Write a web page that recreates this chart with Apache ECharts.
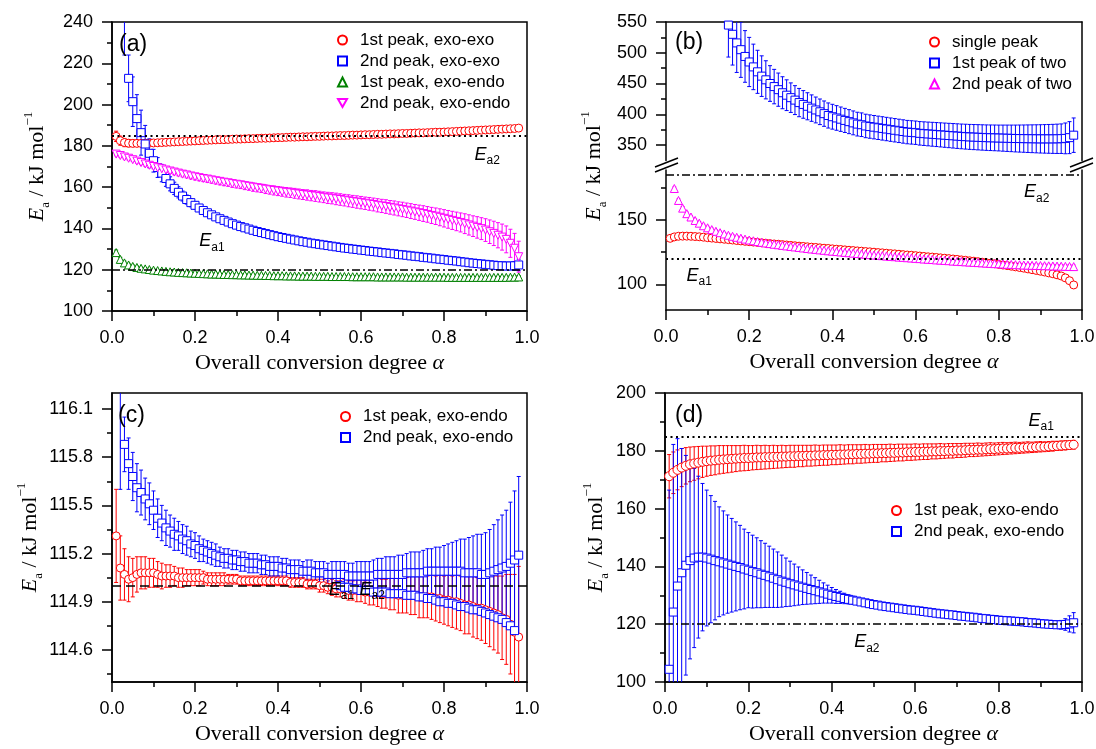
<!DOCTYPE html>
<html><head><meta charset="utf-8">
<script src="https://cdn.jsdelivr.net/npm/echarts@6/dist/echarts.min.js"></script>
<style>html,body{margin:0;padding:0;background:#fff}#c{width:1096px;height:749px}</style>
</head><body><div id="c"></div><script>
// ---------- DATA ----------
const alpha = [
0.01,0.02,0.03,0.04,0.05,0.06,0.07,0.08,0.09,0.10,
0.11,0.12,0.13,0.14,0.15,0.16,0.17,0.18,0.19,0.20,
0.21,0.22,0.23,0.24,0.25,0.26,0.27,0.28,0.29,0.30,
0.31,0.32,0.33,0.34,0.35,0.36,0.37,0.38,0.39,0.40,
0.41,0.42,0.43,0.44,0.45,0.46,0.47,0.48,0.49,0.50,
0.51,0.52,0.53,0.54,0.55,0.56,0.57,0.58,0.59,0.60,
0.61,0.62,0.63,0.64,0.65,0.66,0.67,0.68,0.69,0.70,
0.71,0.72,0.73,0.74,0.75,0.76,0.77,0.78,0.79,0.80,
0.81,0.82,0.83,0.84,0.85,0.86,0.87,0.88,0.89,0.90,
0.91,0.92,0.93,0.94,0.95,0.96,0.97,0.98];

const xTickLabels = ['0.0','0.2','0.4','0.6','0.8','1.0'];

// (a)
const a1 = [
184.6,182.5,181.6,181.3,181.2,181.2,181.2,181.3,181.3,181.4,
181.5,181.6,181.7,181.8,181.9,182.0,182.1,182.2,182.3,182.4,
182.5,182.6,182.7,182.8,182.9,183.0,183.0,183.1,183.2,183.3,
183.3,183.4,183.5,183.5,183.6,183.7,183.7,183.8,183.9,184.0,
184.0,184.1,184.2,184.2,184.3,184.4,184.4,184.5,184.6,184.6,
184.7,184.8,184.8,184.9,185.0,185.0,185.1,185.2,185.2,185.3,
185.4,185.4,185.5,185.6,185.6,185.7,185.8,185.8,185.9,186.0,
186.0,186.1,186.2,186.3,186.3,186.4,186.5,186.6,186.6,186.7,
186.8,186.9,187.0,187.1,187.2,187.3,187.4,187.5,187.6,187.7,
187.8,187.9,188.0,188.1,188.2,188.3,188.4,188.6];
const a1err = [
2.5,2.2,2.0,1.8,1.6,1.5,1.4,1.3,1.2,1.1,
1.1,1.0,1.0,1.0,0.9,0.9,0.9,0.9,0.8,0.8,
0.8,0.8,0.8,0.8,0.8,0.8,0.8,0.8,0.8,0.8,
0.7,0.7,0.7,0.7,0.7,0.7,0.7,0.7,0.7,0.7,
0.7,0.7,0.7,0.7,0.7,0.7,0.7,0.7,0.7,0.7,
0.7,0.7,0.7,0.7,0.7,0.7,0.7,0.7,0.7,0.7,
0.7,0.7,0.7,0.7,0.7,0.7,0.7,0.7,0.7,0.7,
0.8,0.8,0.8,0.8,0.8,0.8,0.8,0.8,0.8,0.8,
0.8,0.8,0.8,0.8,0.8,0.8,0.8,0.8,0.8,0.8,
0.9,0.9,0.9,0.9,0.9,0.9,0.9,1.0];
const a2 = [
300,270,248,212.7,201.4,193.2,186.4,180.9,176.4,172.8,
169.5,166.8,164.2,161.6,159.4,157.5,155.7,154.0,152.5,151.2,
149.9,148.7,147.6,146.6,145.6,144.7,143.9,143.1,142.3,141.6,
140.9,140.3,139.7,139.1,138.5,138.0,137.5,137.0,136.5,136.0,
135.6,135.2,134.8,134.4,134.0,133.6,133.3,132.9,132.6,132.3,
132.0,131.7,131.4,131.1,130.8,130.5,130.3,130.0,129.8,129.5,
129.3,129.0,128.8,128.6,128.3,128.1,127.9,127.7,127.4,127.2,
127.0,126.7,126.5,126.3,126.0,125.8,125.6,125.3,125.1,124.9,
124.6,124.4,124.2,123.9,123.7,123.4,123.2,123.0,122.8,122.6,
122.4,122.2,122.0,121.9,121.8,121.8,121.9,122.3];
const a2err = [
30,28,24,11.3,12,11.6,10.9,9,7,5.5,
4.8,4.2,3.8,3.4,3.0,2.7,2.4,2.2,2.0,1.8,
1.7,1.6,1.5,1.4,1.3,1.2,1.2,1.1,1.1,1.0,
1.0,0.9,0.9,0.9,0.8,0.8,0.8,0.8,0.7,0.7,
0.7,0.7,0.7,0.7,0.7,0.7,0.7,0.7,0.7,0.7,
0.7,0.7,0.7,0.7,0.7,0.7,0.7,0.7,0.7,0.7,
0.7,0.7,0.7,0.7,0.7,0.7,0.7,0.7,0.7,0.7,
0.7,0.7,0.7,0.7,0.7,0.7,0.7,0.7,0.7,0.7,
0.7,0.7,0.7,0.7,0.7,0.8,0.8,0.8,0.9,0.9,
1.0,1.0,1.1,1.2,1.4,1.7,2.1,2.8];
const a3 = [
128.3,125.0,123.3,122.3,121.6,121.1,120.7,120.4,120.1,119.8,
119.6,119.4,119.2,119.0,118.9,118.7,118.6,118.5,118.4,118.3,
118.2,118.1,118.0,117.9,117.9,117.8,117.7,117.7,117.6,117.6,
117.5,117.5,117.4,117.4,117.3,117.3,117.2,117.2,117.1,117.1,
117.1,117.0,117.0,117.0,116.9,116.9,116.9,116.9,116.8,116.8,
116.8,116.8,116.7,116.7,116.7,116.7,116.7,116.6,116.6,116.6,
116.6,116.6,116.6,116.5,116.5,116.5,116.5,116.5,116.5,116.5,
116.4,116.4,116.4,116.4,116.4,116.4,116.4,116.4,116.4,116.4,
116.3,116.3,116.3,116.3,116.3,116.3,116.3,116.3,116.3,116.3,
116.3,116.3,116.3,116.3,116.3,116.4,116.4,116.5];
const a3err = [
1.2,1.0,0.9,0.8,0.7,0.7,0.6,0.6,0.6,0.6,
0.5,0.5,0.5,0.5,0.5,0.5,0.5,0.5,0.5,0.5,
0.5,0.5,0.5,0.5,0.5,0.5,0.5,0.5,0.5,0.5,
0.5,0.5,0.5,0.5,0.5,0.5,0.5,0.5,0.5,0.5,
0.5,0.5,0.5,0.5,0.5,0.5,0.5,0.5,0.5,0.5,
0.5,0.5,0.5,0.5,0.5,0.5,0.5,0.5,0.5,0.5,
0.5,0.5,0.5,0.5,0.5,0.5,0.5,0.5,0.5,0.5,
0.5,0.5,0.5,0.5,0.5,0.5,0.5,0.5,0.5,0.5,
0.5,0.5,0.5,0.5,0.5,0.5,0.5,0.5,0.5,0.5,
0.5,0.5,0.5,0.5,0.5,0.6,0.6,0.7];
const a4 = [
176.0,175.3,174.6,174.0,173.3,172.6,171.9,171.2,170.6,170.0,
169.4,168.9,168.3,167.8,167.3,166.8,166.3,165.9,165.4,165.0,
164.6,164.2,163.9,163.5,163.1,162.8,162.4,162.1,161.7,161.4,
161.1,160.7,160.4,160.0,159.7,159.4,159.0,158.7,158.4,158.1,
157.8,157.5,157.3,157.0,156.7,156.4,156.2,155.9,155.7,155.4,
155.1,154.8,154.6,154.3,154.0,153.7,153.4,153.1,152.8,152.5,
152.2,151.9,151.6,151.2,150.9,150.6,150.2,149.9,149.5,149.2,
148.8,148.4,148.0,147.6,147.2,146.8,146.3,145.9,145.4,144.9,
144.4,143.9,143.4,142.9,142.3,141.7,141.1,140.5,139.9,139.2,
138.4,137.6,136.7,135.8,134.7,132.8,130.4,126.3];
const a4err = [
0.8,0.8,0.9,0.9,0.9,1.0,1.0,1.0,1.1,1.1,
1.1,1.2,1.2,1.2,1.3,1.3,1.3,1.4,1.4,1.5,
1.5,1.5,1.6,1.6,1.6,1.7,1.7,1.7,1.8,1.8,
1.8,1.9,1.9,2.0,2.0,2.0,2.1,2.1,2.2,2.2,
2.2,2.3,2.3,2.4,2.4,2.4,2.5,2.5,2.6,2.6,
2.6,2.7,2.7,2.8,2.8,2.8,2.9,2.9,3.0,3.0,
3.0,3.1,3.1,3.2,3.2,3.3,3.3,3.4,3.4,3.5,
3.5,3.6,3.6,3.7,3.8,3.8,3.9,4.0,4.1,4.2,
4.3,4.4,4.5,4.6,4.8,4.9,5.0,5.2,5.3,5.5,
5.7,5.9,6.1,6.3,6.5,6.8,7.2,7.5];

// (b)
const b1 = [
135.8,136.9,137.4,137.5,137.5,137.4,137.2,137.0,136.7,136.3,
136.0,135.7,135.4,135.1,134.8,134.5,134.1,133.8,133.5,133.2,
132.9,132.6,132.3,132.0,131.7,131.4,131.2,130.9,130.6,130.3,
130.0,129.7,129.5,129.2,128.9,128.7,128.4,128.1,127.9,127.6,
127.3,127.1,126.8,126.5,126.3,126.0,125.8,125.5,125.3,125.0,
124.7,124.5,124.2,123.9,123.7,123.4,123.1,122.8,122.6,122.3,
122.0,121.7,121.4,121.2,120.9,120.6,120.3,120.0,119.7,119.4,
119.0,118.7,118.3,118.0,117.6,117.2,116.8,116.4,116.0,115.5,
115.0,114.6,114.1,113.6,113.1,112.6,112.0,111.4,110.8,110.2,
109.6,108.9,108.2,107.4,106.5,105.0,102.8,99.5];
const b1err = [
1.3,1.2,1.1,1.0,1.0,1.0,0.9,0.9,0.9,0.9,
0.9,0.9,0.9,0.9,0.9,0.9,0.9,0.9,0.9,0.9,
0.9,0.9,0.9,0.9,0.9,0.9,0.9,0.9,0.9,0.9,
0.9,0.9,0.9,0.9,0.9,0.9,0.9,0.9,0.9,0.9,
0.9,0.9,0.9,0.9,0.9,0.9,0.9,0.9,0.9,0.9,
0.9,0.9,0.9,0.9,0.9,0.9,0.9,0.9,0.9,0.9,
0.9,0.9,0.9,0.9,0.9,0.9,0.9,0.9,0.9,0.9,
0.9,0.9,0.9,0.9,0.9,0.9,0.9,0.9,0.9,0.9,
0.9,0.9,0.9,0.9,0.9,0.9,0.9,0.9,0.9,0.9,
1.0,1.0,1.0,1.0,1.1,1.1,1.2,1.3];
const b2 = [
null,null,null,null,null,null,null,null,null,null,
null,null,null,null,545,530,516,505,494,485,
477,469,462,456,450,445,440,435,431,427,
423,419,416,413,410,407,404,401,398,396,
394,392,390,388,386,384,383,381,380,379,
378,377,376,375,374,373,372,371,370.5,370,
369,368.5,368,367.5,367,366.5,366,365.5,365,364.5,
364,363.6,363.2,362.9,362.6,362.3,362,361.8,361.6,361.4,
361.2,361,360.8,360.6,360.5,360.4,360.3,360.2,360.1,360,
360,360,360,360.1,360.3,360.8,362,366];
const b2err = [
null,null,null,null,null,null,null,null,null,null,
null,null,null,null,52,50,48,45,42,40,
37,35,33,31,29,28,27,26,25,24,
23.5,23,22.5,22,21.5,21,20.8,20.6,20.4,20.2,
20,19.8,19.6,19.5,19.4,19.3,19.2,19.1,19,19,
19,19,19,19,19,19,19,19,19,19,
19.1,19.2,19.3,19.4,19.5,19.6,19.7,19.8,19.9,20,
20.1,20.2,20.3,20.4,20.5,20.6,20.7,20.8,20.9,21,
21.2,21.4,21.6,21.8,22,22.2,22.4,22.6,22.8,23,
23.2,23.4,23.6,23.8,24,25,26,28];
const b3 = [
null,174.6,165.3,159.3,155.0,152.4,149.7,147.6,145.6,144.0,
142.6,141.3,140.2,139.2,138.2,137.4,136.6,135.9,135.2,134.5,
133.9,133.3,132.7,132.2,131.7,131.2,130.8,130.3,129.9,129.5,
129.1,128.7,128.3,127.9,127.5,127.2,126.8,126.5,126.1,125.8,
125.5,125.2,124.9,124.6,124.3,124.0,123.7,123.4,123.1,122.8,
122.5,122.3,122.0,121.7,121.5,121.2,121.0,120.7,120.5,120.2,
120.0,119.7,119.5,119.3,119.0,118.8,118.6,118.4,118.1,117.9,
117.7,117.5,117.3,117.1,116.9,116.7,116.5,116.3,116.1,116.0,
115.8,115.6,115.5,115.3,115.2,115.0,114.9,114.8,114.7,114.6,
114.5,114.4,114.3,114.2,114.1,114.0,113.9,113.8];
const b3err = [
null,1.2,1.2,1.2,1.2,1.2,1.2,1.2,1.2,1.2,
1.2,1.2,1.2,1.2,1.2,1.2,1.2,1.2,1.2,1.2,
1.2,1.2,1.2,1.2,1.2,1.2,1.2,1.2,1.2,1.2,
1.2,1.2,1.2,1.2,1.2,1.2,1.2,1.2,1.2,1.2,
1.2,1.2,1.2,1.2,1.2,1.2,1.2,1.2,1.2,1.2,
1.2,1.2,1.2,1.2,1.2,1.2,1.2,1.2,1.2,1.2,
1.2,1.2,1.2,1.2,1.2,1.2,1.2,1.2,1.2,1.2,
1.2,1.2,1.2,1.2,1.2,1.2,1.2,1.2,1.2,1.2,
1.2,1.2,1.2,1.2,1.2,1.2,1.2,1.2,1.2,1.2,
1.2,1.2,1.2,1.2,1.2,1.2,1.2,1.2];

// (c)
const c1 = [
115.31,115.11,115.07,115.04,115.05,115.07,115.08,115.08,115.08,115.08,
115.07,115.06,115.06,115.06,115.06,115.05,115.05,115.05,115.05,115.05,
115.05,115.05,115.04,115.04,115.04,115.04,115.04,115.04,115.04,115.04,
115.03,115.03,115.03,115.03,115.03,115.03,115.03,115.03,115.03,115.03,
115.03,115.03,115.02,115.02,115.02,115.02,115.01,115.01,115.01,115.00,
115.00,114.99,114.99,114.98,114.98,114.98,114.97,114.97,114.97,114.97,
114.96,114.96,114.96,114.96,114.95,114.95,114.95,114.95,114.94,114.94,
114.94,114.94,114.94,114.93,114.93,114.93,114.93,114.92,114.92,114.91,
114.91,114.90,114.90,114.89,114.88,114.88,114.87,114.86,114.86,114.85,
114.84,114.83,114.82,114.80,114.79,114.76,114.71,114.68];
const c1err = [
0.29,0.20,0.16,0.14,0.12,0.11,0.10,0.10,0.09,0.09,
0.08,0.08,0.07,0.07,0.06,0.06,0.06,0.05,0.05,0.05,
0.05,0.04,0.04,0.04,0.04,0.04,0.04,0.03,0.03,0.03,
0.03,0.03,0.03,0.03,0.03,0.03,0.03,0.03,0.03,0.03,
0.03,0.03,0.03,0.03,0.03,0.03,0.03,0.03,0.03,0.04,
0.04,0.04,0.05,0.05,0.05,0.06,0.06,0.06,0.07,0.07,
0.07,0.08,0.08,0.09,0.09,0.09,0.10,0.10,0.11,0.11,
0.11,0.12,0.12,0.13,0.13,0.13,0.14,0.14,0.15,0.15,
0.16,0.16,0.17,0.17,0.18,0.18,0.19,0.19,0.20,0.21,
0.22,0.23,0.24,0.26,0.28,0.31,0.36,0.44];
const c2 = [
117.0,116.3,115.88,115.76,115.68,115.61,115.58,115.54,115.51,115.47,
115.42,115.39,115.36,115.34,115.32,115.31,115.29,115.28,115.26,115.25,
115.23,115.22,115.21,115.20,115.19,115.18,115.17,115.17,115.16,115.16,
115.15,115.15,115.14,115.14,115.14,115.13,115.13,115.12,115.12,115.12,
115.11,115.11,115.10,115.10,115.10,115.09,115.09,115.09,115.08,115.08,
115.08,115.07,115.07,115.07,115.07,115.07,115.06,115.06,115.06,115.06,
115.06,115.06,115.06,115.07,115.07,115.07,115.07,115.07,115.07,115.07,
115.08,115.08,115.08,115.08,115.08,115.09,115.09,115.09,115.09,115.09,
115.09,115.09,115.09,115.09,115.08,115.08,115.08,115.08,115.07,115.07,
115.08,115.09,115.10,115.11,115.12,115.14,115.16,115.19];
const c2err = [
0.6,0.7,0.17,0.16,0.15,0.15,0.14,0.13,0.13,0.12,
0.12,0.11,0.11,0.10,0.10,0.09,0.09,0.09,0.08,0.08,
0.08,0.07,0.07,0.07,0.07,0.06,0.06,0.06,0.06,0.06,
0.06,0.06,0.06,0.06,0.06,0.06,0.06,0.06,0.06,0.06,
0.06,0.06,0.06,0.06,0.06,0.06,0.07,0.07,0.07,0.07,
0.07,0.07,0.08,0.08,0.08,0.08,0.08,0.08,0.09,0.09,
0.09,0.09,0.10,0.10,0.10,0.11,0.11,0.11,0.12,0.12,
0.12,0.13,0.13,0.13,0.14,0.14,0.14,0.15,0.15,0.16,
0.17,0.18,0.19,0.20,0.21,0.22,0.23,0.24,0.25,0.26,
0.27,0.29,0.31,0.33,0.35,0.38,0.43,0.49];
const c2low = [
null,null,null,null,null,null,null,null,null,null,
null,null,null,null,null,null,null,null,null,null,
null,null,null,null,null,null,null,null,null,null,
null,null,null,null,null,null,null,null,null,null,
null,null,null,null,null,null,null,null,null,null,
null,null,null,null,115.00,114.99,114.99,114.98,114.98,114.97,
114.97,114.97,114.96,114.96,114.96,114.96,114.95,114.95,114.95,114.95,
114.94,114.94,114.94,114.93,114.93,114.92,114.92,114.91,114.90,114.90,
114.89,114.89,114.88,114.87,114.87,114.86,114.85,114.85,114.84,114.83,
114.82,114.81,114.80,114.79,114.77,114.75,114.72,null];

// (d)
const d1 = [
171.2,172.4,173.4,174.2,174.8,175.3,175.6,175.9,176.2,176.4,
176.6,176.7,176.9,177.0,177.1,177.2,177.3,177.4,177.5,177.5,
177.6,177.7,177.7,177.8,177.8,177.9,177.9,178.0,178.0,178.1,
178.1,178.2,178.2,178.3,178.3,178.4,178.4,178.5,178.5,178.6,
178.6,178.7,178.7,178.8,178.8,178.9,178.9,179.0,179.0,179.1,
179.1,179.2,179.2,179.3,179.3,179.4,179.4,179.5,179.5,179.6,
179.6,179.7,179.7,179.8,179.8,179.9,179.9,180.0,180.0,180.1,
180.1,180.2,180.3,180.3,180.4,180.4,180.5,180.6,180.6,180.7,
180.8,180.8,180.9,181.0,181.0,181.1,181.2,181.2,181.3,181.4,
181.4,181.5,181.6,181.7,181.8,181.9,182.0,182.1];
const d1err = [
7.5,7.2,6.9,6.6,6.3,6.0,5.8,5.6,5.4,5.2,
5.1,5.0,4.9,4.8,4.7,4.6,4.5,4.4,4.4,4.3,
4.2,4.2,4.1,4.1,4.0,4.0,3.9,3.9,3.8,3.8,
3.8,3.7,3.7,3.6,3.6,3.6,3.5,3.5,3.5,3.4,
3.4,3.4,3.3,3.3,3.3,3.2,3.2,3.2,3.1,3.1,
3.1,3.0,3.0,3.0,2.9,2.9,2.9,2.8,2.8,2.8,
2.7,2.7,2.7,2.6,2.6,2.6,2.5,2.5,2.5,2.4,
2.4,2.4,2.3,2.3,2.3,2.2,2.2,2.2,2.1,2.1,
2.1,2.0,2.0,2.0,1.9,1.9,1.9,1.8,1.8,1.8,
1.7,1.7,1.7,1.6,1.6,1.6,1.5,1.5];
const d2 = [
104.4,124.2,133.2,137.8,140.4,142.0,142.9,143.2,143.2,142.9,
142.5,142.0,141.6,141.2,140.8,140.4,140.0,139.6,139.1,138.7,
138.2,137.8,137.3,136.9,136.4,135.9,135.4,134.9,134.5,134.0,
133.6,133.2,132.8,132.4,132.0,131.6,131.2,130.8,130.4,130.0,
129.6,129.3,128.9,128.6,128.3,128.0,127.7,127.4,127.1,126.8,
126.6,126.3,126.1,125.9,125.7,125.5,125.3,125.1,124.9,124.8,
124.6,124.4,124.2,124.0,123.8,123.6,123.5,123.3,123.2,123.0,
122.8,122.7,122.5,122.4,122.2,122.0,121.9,121.7,121.6,121.4,
121.3,121.2,121.1,121.0,120.9,120.8,120.6,120.5,120.4,120.2,
120.1,120.0,119.9,119.8,119.8,119.9,120.1,120.5];
const d2err = [
62,58,51,43,38,34,31,28,25.5,23.5,
22,20.5,19,18,17,16.2,15.4,14.6,13.8,13,
12.6,12.1,11.6,11.1,10.6,10.1,9.6,9.0,8.4,7.8,
7.2,6.6,6.0,5.5,5.0,4.5,4.0,3.5,3.1,2.7,
2.4,2.1,1.8,1.6,1.4,1.2,1.0,0.9,0.8,0.7,
0.6,0.6,0.6,0.6,0.6,0.6,0.6,0.6,0.6,0.6,
0.6,0.6,0.6,0.6,0.6,0.6,0.6,0.6,0.6,0.6,
0.6,0.6,0.6,0.6,0.6,0.6,0.6,0.6,0.6,0.6,
0.6,0.6,0.6,0.6,0.6,0.6,0.6,0.6,0.6,0.6,
0.6,0.6,0.6,1.0,1.5,2.0,2.8,3.5];

// reference activation energies
const EaRef = { a: [185, 120], b: [185, 120], c: [115.0], d: [185, 120] };

// tick label values
const ticksC = [114.6, 114.9, 115.2, 115.5, 115.8, 116.1];
const minorC = [114.45, 114.75, 115.05, 115.35, 115.65, 115.95];
const ticksBup = [350, 400, 450, 500, 550];
const minorBup = [375, 425, 475, 525];
const ticksBlo = [100, 150];
const minorBlo = [125, 175];

// ---------- HELPERS ----------
const BLACK = '#000';
const AX = {color: BLACK, width: 1.5};
const RED = '#ff0000', BLUE = '#0000ff', GREEN = '#008000', MAG = '#ff00ff';
const DOWN_TRI = 'path://M0,0L10,0L5,8.66Z';

function pair(ys, es) {
  const out = [];
  for (let i = 0; i < alpha.length; i++) {
    if (ys[i] == null) continue;
    out.push(es ? [alpha[i], ys[i], es[i]] : [alpha[i], ys[i]]);
  }
  return out;
}
function errSeries(ys, es, color, xi, yi) {
  return {
    type: 'custom', name: 'err', xAxisIndex: xi, yAxisIndex: yi, clip: true, silent: true,
    data: pair(ys, es), encode: {x: 0, y: 1}, z: 2,
    renderItem(params, api) {
      const x = api.value(0), y = api.value(1), e = api.value(2);
      const hi = api.coord([x, y + e]), lo = api.coord([x, y - e]);
      const st = {stroke: color, lineWidth: 1, fill: null};
      return {type: 'group', children: [
        {type: 'line', shape: {x1: hi[0], y1: hi[1], x2: lo[0], y2: lo[1]}, style: st},
        {type: 'line', shape: {x1: hi[0] - 2, y1: hi[1], x2: hi[0] + 2, y2: hi[1]}, style: st},
        {type: 'line', shape: {x1: lo[0] - 2, y1: lo[1], x2: lo[0] + 2, y2: lo[1]}, style: st}
      ]};
    }
  };
}
function ptSeries(name, ys, color, symbol, size, xi, yi) {
  return {
    type: 'scatter', name, xAxisIndex: xi, yAxisIndex: yi, data: pair(ys),
    symbol, symbolSize: size, clip: true, z: 3,
    itemStyle: {color: '#fff', borderColor: color, borderWidth: 1, opacity: 1},
    emphasis: {disabled: true}
  };
}
const DOT = [2, 3.5], DASHDOT = [8, 3, 2, 3], DASH = [9, 5];
function refSeries(xi, yi, lines, labels) {
  return {
    type: 'line', name: 'ref', xAxisIndex: xi, yAxisIndex: yi, data: [], silent: true, z: 4,
    markLine: {
      silent: true, symbol: ['none', 'none'], label: {show: false}, animation: false,
      data: lines.map(l => ({yAxis: l.v, lineStyle: {color: BLACK, width: l.w || 1.5, type: l.t}}))
    },
    markPoint: {
      silent: true, symbol: 'circle', symbolSize: 1, itemStyle: {color: 'rgba(0,0,0,0)'}, animation: false,
      data: labels.map(l => ({coord: [l.x, l.y], label: {
        show: true, position: 'inside', formatter: '{e|E}{s|' + l.t + '}',
        rich: {
          e: {fontFamily: 'Liberation Sans', fontStyle: 'italic', fontSize: 18, lineHeight: 24, color: BLACK},
          s: {fontFamily: 'Liberation Sans', fontSize: 12, lineHeight: 12, verticalAlign: 'bottom', color: BLACK}
        }}}))
    }
  };
}

const xName = '{t|Overall conversion degree }{i|α}';
const xNameStyle = {color: BLACK, rich: {
  t: {fontFamily: 'Liberation Serif', fontSize: 22, lineHeight: 24, color: BLACK},
  i: {fontFamily: 'Liberation Serif', fontStyle: 'italic', fontSize: 22, lineHeight: 24, color: BLACK}}};
const yName = '{e|E}{s|a}{t| / kJ mol}{p|−1}';
const yNameStyle = {color: BLACK, rich: {
  e: {fontFamily: 'Liberation Serif', fontStyle: 'italic', fontSize: 22, lineHeight: 30, color: BLACK},
  s: {fontFamily: 'Liberation Serif', fontSize: 13, lineHeight: 13, verticalAlign: 'bottom', color: BLACK},
  t: {fontFamily: 'Liberation Serif', fontSize: 22, lineHeight: 30, color: BLACK},
  p: {fontFamily: 'Liberation Serif', fontSize: 13, lineHeight: 13, verticalAlign: 'top', color: BLACK}}};
const lbl = {color: BLACK, fontFamily: 'Liberation Sans', fontSize: 18};

function xAx(grid, opts) {
  return Object.assign({
    type: 'value', gridIndex: grid, min: 0, max: 1, interval: 0.2, position: 'bottom',
    axisLine: {show: true, onZero: false, lineStyle: AX},
    axisTick: {show: true, inside: false, length: 10, lineStyle: AX},
    minorTick: {show: true, splitNumber: 2, length: 5, lineStyle: AX},
    axisLabel: Object.assign({margin: 18, formatter: v => xTickLabels[Math.round(v * 5)]}, lbl),
    splitLine: {show: false}, minorSplitLine: {show: false},
    name: xName, nameLocation: 'middle', nameGap: 40, nameTextStyle: xNameStyle, nameMoveOverlap: false
  }, opts || {});
}
function yAx(grid, min, max, opts) {
  return Object.assign({
    type: 'value', gridIndex: grid, min, max, position: 'left',
    axisLine: {show: true, onZero: false, lineStyle: AX},
    axisTick: {show: true, inside: false, length: 10, lineStyle: AX},
    axisLabel: Object.assign({margin: 19}, lbl),
    splitLine: {show: false}, minorSplitLine: {show: false}, nameMoveOverlap: false
  }, opts || {});
}
function yMinor(grid, min, max, vals) {
  return {
    type: 'value', gridIndex: grid, min, max, position: 'left',
    axisLine: {show: false}, axisLabel: {show: false, customValues: vals},
    axisTick: {show: true, inside: false, length: 5, lineStyle: AX, customValues: vals},
    splitLine: {show: false}
  };
}
function yLineOnly(grid, min, max, pos) {
  return {type: 'value', gridIndex: grid, min, max, position: pos,
    axisLine: {show: true, onZero: false, lineStyle: AX}, axisTick: {show: false},
    axisLabel: {show: false}, splitLine: {show: false}};
}

const gridBase = {containLabel: false, outerBoundsMode: 'none'};
const framed = {show: true, borderColor: BLACK, borderWidth: 1.5, backgroundColor: 'transparent'};

const option = {
  animation: false,
  backgroundColor: '#fff',
  textStyle: {fontFamily: 'Liberation Sans'},
  title: [
    {text: '(a)', left: 119, top: 33},
    {text: '(b)', left: 675, top: 31},
    {text: '(c)', left: 118, top: 404},
    {text: '(d)', left: 675, top: 404}
  ].map(t => Object.assign(t, {padding: 0, textStyle: {fontFamily: 'Liberation Sans', fontWeight: 'normal', fontSize: 23, color: BLACK}})),
  grid: [
    Object.assign({left: 112, top: 22, width: 415, height: 289}, gridBase, framed),
    Object.assign({left: 666, top: 22, width: 416, height: 138.4}, gridBase),
    Object.assign({left: 666, top: 170, width: 416, height: 140}, gridBase),
    Object.assign({left: 112, top: 393, width: 415, height: 289}, gridBase, framed),
    Object.assign({left: 665, top: 393, width: 417, height: 289}, gridBase, framed),
    Object.assign({left: 666, top: 22, width: 416, height: 288}, gridBase)
  ],
  xAxis: [
    xAx(0),
    {type: 'value', gridIndex: 1, min: 0, max: 1, position: 'top',
      axisLine: {show: true, onZero: false, lineStyle: AX}, axisTick: {show: false},
      axisLabel: {show: false}, splitLine: {show: false}},
    xAx(2),
    xAx(3),
    xAx(4),
    {type: 'value', gridIndex: 5, min: 0, max: 1, show: false}
  ],
  yAxis: [
    yAx(0, 100, 240, {interval: 20, minorTick: {show: true, splitNumber: 2, length: 5, lineStyle: AX},
      name: yName, nameLocation: 'middle', nameGap: 60, nameTextStyle: yNameStyle}),
    yAx(1, 325, 550, {axisLabel: Object.assign({margin: 19, customValues: ticksBup}, lbl),
      axisTick: {show: true, inside: false, length: 10, lineStyle: AX, customValues: ticksBup}}),
    yMinor(1, 325, 550, minorBup),
    yLineOnly(1, 325, 550, 'right'),
    yAx(2, 80, 189, {axisLabel: Object.assign({margin: 19, customValues: ticksBlo}, lbl),
      axisTick: {show: true, inside: false, length: 10, lineStyle: AX, customValues: ticksBlo}}),
    yMinor(2, 80, 189, minorBlo),
    yLineOnly(2, 80, 189, 'right'),
    yAx(3, 114.4, 116.2, {axisLabel: Object.assign({margin: 19, customValues: ticksC, formatter: v => v.toFixed(1)}, lbl),
      axisTick: {show: true, inside: false, length: 10, lineStyle: AX, customValues: ticksC},
      name: yName, nameLocation: 'middle', nameGap: 67, nameTextStyle: yNameStyle}),
    yMinor(3, 114.4, 116.2, minorC),
    yAx(4, 100, 200, {interval: 20, minorTick: {show: true, splitNumber: 2, length: 5, lineStyle: AX},
      name: yName, nameLocation: 'middle', nameGap: 54, nameTextStyle: yNameStyle}),
    {type: 'value', gridIndex: 5, min: 0, max: 1, position: 'left',
      axisLine: {show: false}, axisTick: {show: false}, axisLabel: {show: false}, splitLine: {show: false},
      name: yName, nameLocation: 'middle', nameGap: 57, nameTextStyle: yNameStyle, nameMoveOverlap: false}
  ],
  legend: [
    {left: 337, top: 31.5, data: ['a|1st peak, exo-exo', 'a|2nd peak, exo-exo', 'a|1st peak, exo-endo', 'a|2nd peak, exo-endo']},
    {left: 929, top: 33.5, data: ['b|single peak', 'b|1st peak of two', 'b|2nd peak of two']},
    {left: 340, top: 408, data: ['c|1st peak, exo-endo', 'c|2nd peak, exo-endo']},
    {left: 891, top: 502, data: ['d|1st peak, exo-endo', 'd|2nd peak, exo-endo']}
  ].map(l => Object.assign(l, {orient: 'vertical', padding: 0, itemWidth: 9, itemHeight: 9, itemGap: 4,
    selectedMode: false, formatter: n => n.split('|')[1],
    textStyle: {fontFamily: 'Liberation Sans', fontSize: 17, color: BLACK, padding: [0, 0, 0, 8]}})),
  series: [
    // (a)
    errSeries(a1, a1err, RED, 0, 0), ptSeries('a|1st peak, exo-exo', a1, RED, 'circle', 8, 0, 0),
    errSeries(a2, a2err, BLUE, 0, 0), ptSeries('a|2nd peak, exo-exo', a2, BLUE, 'rect', 8, 0, 0),
    errSeries(a3, a3err, GREEN, 0, 0), ptSeries('a|1st peak, exo-endo', a3, GREEN, 'triangle', 8, 0, 0),
    errSeries(a4, a4err, MAG, 0, 0), ptSeries('a|2nd peak, exo-endo', a4, MAG, DOWN_TRI, 8, 0, 0),
    refSeries(0, 0, [{v: EaRef.a[0], t: DOT, w: 2}, {v: EaRef.a[1], t: DASHDOT}],
      [{x: 0.904, y: 175.8, t: 'a2'}, {x: 0.241, y: 133.8, t: 'a1'}]),
    // (b)
    errSeries(b2, b2err, BLUE, 1, 1), ptSeries('b|1st peak of two', b2, BLUE, 'rect', 8, 1, 1),
    errSeries(b1, b1err, RED, 2, 4), ptSeries('b|single peak', b1, RED, 'circle', 8, 2, 4),
    errSeries(b3, b3err, MAG, 2, 4), ptSeries('b|2nd peak of two', b3, MAG, 'triangle', 8, 2, 4),
    refSeries(2, 4, [{v: EaRef.b[0], t: DASHDOT}, {v: EaRef.b[1], t: DOT, w: 2}],
      [{x: 0.891, y: 171.5, t: 'a2'}, {x: 0.08, y: 106.8, t: 'a1'}]),
    // (c)
    errSeries(c1, c1err, RED, 3, 7), ptSeries('c|1st peak, exo-endo', c1, RED, 'circle', 8, 3, 7),
    errSeries(c2, c2err, BLUE, 3, 7), ptSeries('c|2nd peak, exo-endo', c2, BLUE, 'rect', 8, 3, 7),
    ptSeries('c|2nd peak, exo-endo', c2low, BLUE, 'rect', 8, 3, 7),
    refSeries(3, 7, [{v: EaRef.c[0], t: DASH}],
      [{x: 0.553, y: 114.975, t: 'a1'}, {x: 0.627, y: 114.975, t: 'a2'}]),
    // (d)
    errSeries(d1, d1err, RED, 4, 9), ptSeries('d|1st peak, exo-endo', d1, RED, 'circle', 9, 4, 9),
    errSeries(d2, d2err, BLUE, 4, 9), ptSeries('d|2nd peak, exo-endo', d2, BLUE, 'rect', 8, 4, 9),
    refSeries(4, 9, [{v: EaRef.d[0], t: DOT, w: 2}, {v: EaRef.d[1], t: DASHDOT}],
      [{x: 0.902, y: 190.3, t: 'a1'}, {x: 0.484, y: 113.7, t: 'a2'}])
  ],
  graphic: [
    // axis-break marks of panel (b)
    {type: 'line', shape: {x1: 655, y1: 167, x2: 678, y2: 158}, style: {stroke: BLACK, lineWidth: 1.5}},
    {type: 'line', shape: {x1: 655, y1: 172, x2: 678, y2: 163}, style: {stroke: BLACK, lineWidth: 1.5}},
    {type: 'line', shape: {x1: 1070, y1: 167, x2: 1093, y2: 158}, style: {stroke: BLACK, lineWidth: 1.5}},
    {type: 'line', shape: {x1: 1070, y1: 172, x2: 1093, y2: 163}, style: {stroke: BLACK, lineWidth: 1.5}}
  ]
};
const chart = echarts.init(document.getElementById('c'), null, {renderer: 'canvas'});
chart.setOption(option);
</script></body></html>
